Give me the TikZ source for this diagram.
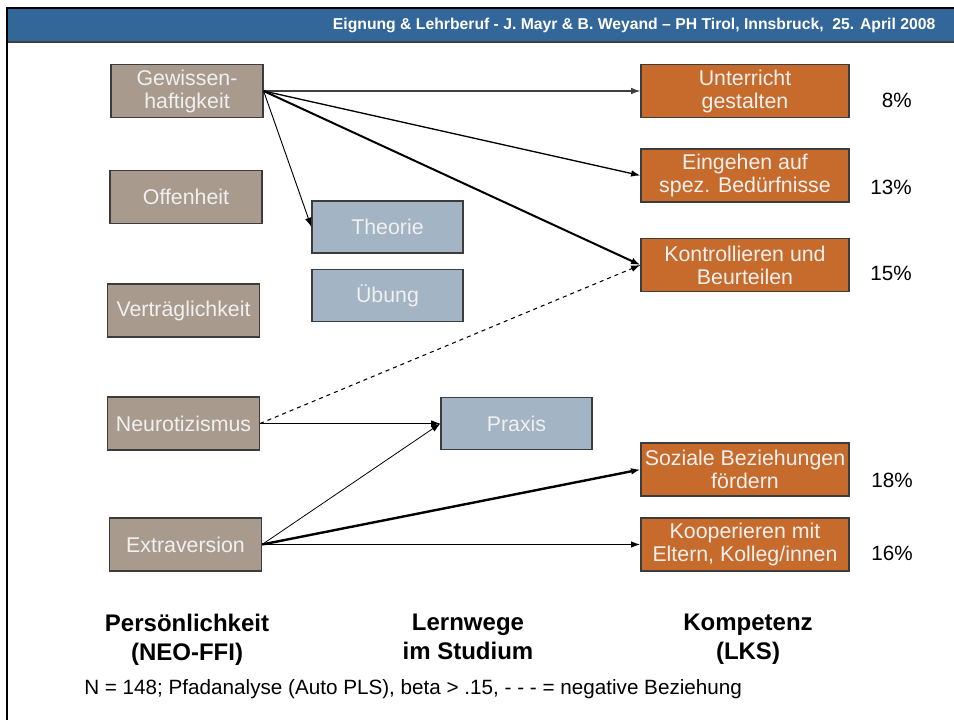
\documentclass[tikz,border=0pt]{standalone}
\usepackage{fontspec}
\setmainfont{Liberation Sans}
\usetikzlibrary{arrows.meta}

\definecolor{headblue}{RGB}{51,102,153}
\definecolor{headline}{RGB}{64,64,64}
\definecolor{persbrown}{RGB}{168,155,142}
\definecolor{lernblue}{RGB}{163,180,196}
\definecolor{komporange}{RGB}{199,107,44}
\definecolor{boxline}{RGB}{60,60,60}

\tikzset{
	box/.style={draw=boxline, line width=0.9pt, text=white!94!black, align=center, inner sep=0pt,
		font=\fontsize{16pt}{17.25pt}\selectfont},
	persbox/.style={box, fill=persbrown, minimum width=114pt, minimum height=39.75pt},
	lernbox/.style={box, fill=lernblue, minimum width=113.25pt, minimum height=39pt},
	kompbox/.style={box, fill=komporange, minimum width=156pt, minimum height=39.75pt},
	share/.style={anchor=east, inner sep=0pt, font=\fontsize{15.5pt}{17pt}\selectfont},
	column/.style={anchor=north, align=center, font=\bfseries\fontsize{18pt}{21.75pt}\selectfont},
	path/.style={-{Latex[length=7pt,width=5pt]}, draw=black}
}

\begin{document}
\begin{tikzpicture}[x=0.75pt, y=-0.75pt]
	\useasboundingbox (0,0) rectangle (954,720);

	\begin{scope}
		\fill[headblue] (8,9) rectangle (954,41);
		\draw[headline, line width=1.5pt] (8,42) -- (954,42);
		\draw[black, line width=2pt] (7,720) -- (7,8) -- (954,8);
		\node[anchor=east, text=white, font=\bfseries\fontsize{11.8pt}{14pt}\selectfont] (title) at (940,25)
			{Eignung \& Lehrberuf - J. Mayr \& B. Weyand -- PH Tirol, Innsbruck,\ \ 25. April 2008};
	\end{scope}

	\begin{scope}
		\node[persbox] (gewissen) at (187,91) {Gewissen-\\haftigkeit};
		\node[persbox] (offen) at (186,197) {Offenheit};
		\node[persbox] (vertrag) at (183.5,310.5) {Verträglichkeit};
		\node[persbox] (neuro) at (183.5,423.5) {Neurotizismus};
		\node[persbox] (extra) at (185.5,544.5) {Extraversion};
	\end{scope}

	\begin{scope}
		\node[lernbox] (theorie) at (387.5,227) {Theorie};
		\node[lernbox] (uebung) at (387.5,295.5) {Übung};
		\node[lernbox] (praxis) at (516.5,423.5) {Praxis};
	\end{scope}

	\begin{scope}
		\node[kompbox] (unterricht) at (745,91) {Unterricht\\gestalten};
		\node[kompbox] (eingehen) at (745,175.5) {Eingehen auf\\spez. Bedürfnisse};
		\node[kompbox] (kontroll) at (745,265) {Kontrollieren und\\Beurteilen};
		\node[kompbox] (sozial) at (745,469.5) {Soziale Beziehungen\\fördern};
		\node[kompbox] (kooper) at (745,544.5) {Kooperieren mit\\Eltern, Kolleg/innen};

		\node[share] (pUnterricht) at (912,100) {8\%};
		\node[share] (pEingehen) at (912,187) {13\%};
		\node[share] (pKontroll) at (912,273) {15\%};
		\node[share] (pSozial) at (913,480) {18\%};
		\node[share] (pKooper) at (913,553) {16\%};
	\end{scope}

	\begin{scope}[path]
		\draw[line width=0.8pt, draw=black!75] (gewissen.east) -- (unterricht.west);
		\draw[line width=1pt] (gewissen.east) -- (eingehen.west);
		\draw[line width=1.5pt] (gewissen.east) -- (kontroll.west);
		\draw[line width=0.7pt] (gewissen.east) -- (theorie.west);
		\draw[line width=0.8pt, dashed] (neuro.east) -- (kontroll.west);
		\draw[line width=0.9pt] (neuro.east) -- (praxis.west);
		\draw[line width=0.6pt] (extra.east) -- (praxis.west);
		\draw[line width=1.8pt] (extra.east) -- (sozial.west);
		\draw[line width=1.1pt] (extra.east) -- (kooper.west);
	\end{scope}

	\begin{scope}
		\node[column] (persLabel) at (187,609) {Persönlichkeit\\(NEO-FFI)};
		\node[column] (lernLabel) at (468,609) {Lernwege\\im Studium};
		\node[column] (kompLabel) at (748,609) {Kompetenz\\(LKS)};
		\node[anchor=west, inner sep=0pt, font=\fontsize{15.5pt}{17pt}\selectfont] (note) at (84,689)
			{N = 148; Pfadanalyse (Auto PLS), beta > .15, - - - = negative Beziehung};
	\end{scope}
\end{tikzpicture}
\end{document}
